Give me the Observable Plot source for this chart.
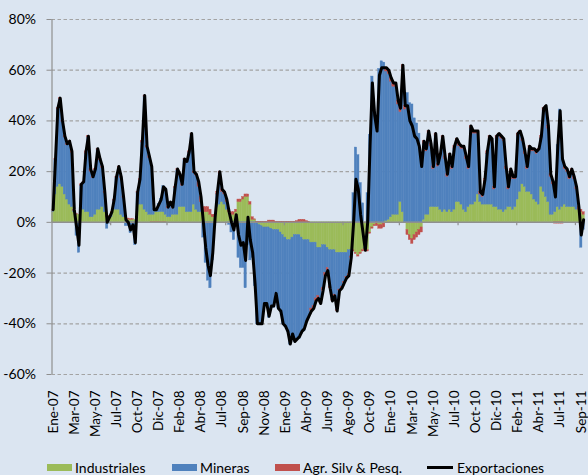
<!DOCTYPE html>
<html><head><meta charset="utf-8">
<script src="https://cdn.jsdelivr.net/npm/d3@7"></script>
<script src="https://cdn.jsdelivr.net/npm/@observablehq/plot@0.6"></script>
<style>
html,body{margin:0;padding:0;background:#DBE5F1;}
#wrap{position:relative;width:588px;height:475px;overflow:hidden;font-family:Lato,sans-serif;background:#DBE5F1;}
#chart{position:absolute;left:0;top:0;}
.it{position:absolute;top:459px;height:16px;display:flex;align-items:center;font-size:14px;color:#000;white-space:nowrap;}
.sw{width:25px;height:7px;margin-right:3px;}
.ln{width:26px;height:3px;background:#000;margin-right:4px;}
</style></head>
<body><div id="wrap"><div id="chart"></div>
<div id="legend"></div></div>
<script>
const xLabels = ["Ene-07","Mar-07","May-07","Jul-07","Oct-07","Dic-07","Feb-08","Abr-08","Jul-08","Sep-08","Nov-08","Ene-09","Abr-09","Jun-09","Ago-09","Oct-09","Ene-10","Mar-10","May-10","Jul-10","Oct-10","Dic-10","Feb-11","Abr-11","Jul-11","Sep-11"];
const series = ["Industriales","Mineras","Agr. Silv & Pesq."];
const colors = ["#9BBB59","#4F81BD","#C0504D"];
const yTicks = [-60,-40,-20,0,20,40,60,80];

const exportaciones = [
5,25,45,49,40,34,31,32,28,5,
-2,-9,15,16,28,34,21,18,21,29,
25,22,12,0,2,4,9,18,22,18,
10,1,0,-3,-1,-8,12,17,32,50,
30,26,22,5,5,7,9,14,13,6,
8,6,14,21,19,15,25,24,28,35,
20,19,16,10,0,-10,-17,-21,-12,2,
12,20,13,12,9,4,0,-3,3,-5,
-9,-8,-15,2,-7,-12,-24,-40,-40,-40,
-32,-32,-37,-33,-33,-28,-34,-35,-40,-41,
-43,-48,-44,-47,-46,-45,-43,-42,-39,-37,
-35,-34,-31,-30,-32,-27,-21,-19,-26,-31,
-29,-35,-27,-26,-24,-22,-21,-14,0,17,
13,3,-4,-11,0,30,55,42,36,58,
61,61,61,60,57,55,55,48,45,62,
46,46,40,38,34,33,30,22,32,29,
36,31,22,35,23,27,34,26,19,27,
22,30,33,31,30,30,26,22,38,36,
36,36,12,11,17,28,34,33,14,34,
35,34,33,22,14,21,18,18,35,36,
33,28,22,30,29,29,28,29,34,45,
46,38,19,16,10,30,44,25,22,21,
18,21,18,14,6,-5,1];

const industriales = [
4,11,14,15,14,11,9,7,6,4,
3,3,5,5,4,4,2,2,3,5,
5,6,4,2,2,2,5,5,5,3,
2,2,1,1,1,1,4,7,7,5,
4,3,3,3,4,4,4,4,3,2,
2,3,3,3,6,6,6,4,4,4,
7,5,4,4,4,4,4,3,2,2,
6,7,8,7,5,4,3,3,4,8,
8,9,10,10,7,1,1,0,-1,-1.5,
-2,-2,-2,-2.5,-3,-3,-3,-4,-5,-6,
-7,-7,-6,-5,-5,-5,-6,-7,-7,-7,
-8,-8,-8,-10,-10,-9,-9,-10,-11,-11,
-11,-12,-12,-12,-12,-12,-11,-11,-11,-12,
-13,-12,-11,-10,-11,-4,-2,-1,0,-1,
-1,-0.5,0.5,1,2,3,3,3,8,4,
0,-3,-5,-6.5,-5,-4,-3,-2,1,3,
3,6,6,6,6,5,4,5,4,5,
4,5,8,8,7,5,4,6,7,7,
8,11,8,7,7,7,7,7,6,6,
5,5,4,5,6,6,5,6,9,12,
15,14,12,12,11,9,8,7,14,12,
10,8,3,3,4,6,5,6,7,6,
6,6,6,5,5,4,3];

const mineras = [
0.5,13.5,30.5,33.5,25.5,22.5,21.5,24.5,21.5,0.5,
-5.3,-12,9.5,10.5,23,29.5,18,15.5,17.5,23.5,
19.5,15.5,7.5,-2.5,-0.5,1.5,3.5,12.5,16.5,14.5,
7.5,-1.5,-1.5,-4.3,-2.3,-9,7.5,9.5,24.5,44.5,
25.5,22.5,19.3,2.3,1.3,3.3,5.3,10.3,10.3,3.5,
5.5,2.5,10.5,17.5,12.5,8.5,18.5,19.5,23.5,30.5,
12.5,13.5,10,4,-6,-16,-23,-26,-15,-1,
5,12,4,4,3,-1,-4,-7,-2,-14,
-18,-18,-26,-9,-15,-14,-25.2,-40.2,-39.2,-38.7,
-30.2,-30.2,-35.7,-31.2,-30.7,-25.2,-31.2,-31.2,-35.2,-35.2,
-36.2,-41.2,-38.2,-42.2,-41.5,-41,-38,-36,-32.5,-30.2,
-26,-25,-22,-19,-21,-17,-11,-8,-14.5,-19.5,
-17.5,-22.5,-14.5,-13.5,-11.5,-9.5,-9.5,-2.5,11.5,29.5,
26.5,15.5,7.5,-0.5,11.5,34.5,57.5,43.5,37.5,60.5,
63.5,63,59,57.5,53.5,50.5,50.5,43.5,35.5,56.5,
44.5,51,47,46.5,41,39,35,26,30,25,
32,24,15,28,16,21,29,20,14,21,
17,24,24,22,22,24,21,15,30,28,
27,24,3,3,9,20,26,25,7,27,
29,28,28,16,7,14,12,11,25,23,
17,13,9,17,17,19,19,21,19,32,
35,29,15,12,6.5,24.5,39.5,19.5,14,14,
11,14,11,8,0,-10,-3];

const agr = [
0.5,0.5,0.5,0.5,0.5,0.5,0.5,0.5,0.5,0.5,
0.3,0,0.5,0.5,1,0.5,1,0.5,0.5,0.5,
0.5,0.5,0.5,0.5,0.5,0.5,0.5,0.5,0.5,0.5,
0.5,0.5,0.5,0.3,0.3,0,0.5,0.5,0.5,0.5,
0.5,0.5,-0.3,-0.3,-0.3,-0.3,-0.3,-0.3,-0.3,0.5,
0.5,0.5,0.5,0.5,0.5,0.5,0.5,0.5,0.5,0.5,
0.5,0.5,2,2,2,2,2,2,1,1,
1,1,1,1,1,1,1,1,1,1,
1,1,1,1,1,1,0.2,0.2,0.2,0.2,
0.2,0.2,0.7,0.7,0.7,0.2,0.2,0.2,0.2,0.2,
0.2,0.2,0.2,0.2,0.5,1,1,1,0.5,0.2,
-1,-1,-1,-1,-1,-1,-1,-1,-0.5,-0.5,
-0.5,-0.5,-0.5,-0.5,-0.5,-0.5,-0.5,-0.5,-0.5,-0.5,
-0.5,-0.5,-0.5,-0.5,-0.5,-0.5,-0.5,-0.5,-1.5,-1.5,
-1.5,-1.5,1.5,1.5,1.5,1.5,1.5,1.5,1.5,1.5,
1.5,-2,-2,-2,-2,-2,-2,-2,1,1,
1,1,1,1,1,1,1,1,1,1,
1,1,1,1,1,1,1,1,1,1,
1,1,1,1,1,1,1,1,1,1,
1,1,1,1,1,1,1,1,1,1,
1,1,1,1,1,1,1,1,1,1,
1,1,1,1,-0.5,-0.5,-0.5,-0.5,1,1,
1,1,1,1,1,1,1];

const N = exportaciones.length;
const W = 588, H = 450, ML = 51.5, MR = 3.7, MT = 19, MB = 76;
const bw = (W - ML - MR) / N;
const labelStep = 9;
const labelIdx = xLabels.map((_, k) => k * labelStep);
const axisTickIdx = [25, 49, 74, 99, 124, 148, 173, 198, 223];

const table = [];
const bySerie = [industriales, mineras, agr];
for (let i = 0; i < N; i++) {
  series.forEach((s, k) => table.push({i, serie: s, value: bySerie[k][i]}));
}
const lineData = exportaciones.map((v, i) => ({i, v}));
const grey = "#8f8f8f";

const chart = Plot.plot({
  width: W, height: H,
  marginLeft: ML, marginRight: MR, marginTop: MT, marginBottom: MB,
  style: {background: "transparent", fontFamily: "Lato, sans-serif", fontSize: "14px", color: "#000", overflow: "visible"},
  x: {type: "band", domain: d3.range(N), padding: 0, label: null},
  y: {domain: [-60, 80], label: null},
  color: {domain: series, range: colors},
  marks: [
    Plot.ruleY(yTicks.filter(d => d !== 0), {stroke: "#a3a3a3", strokeWidth: 1.2, strokeDasharray: "3.5,2.5"}),
    Plot.barY(table, {x: "i", y: "value", fill: "serie", stroke: "serie", strokeWidth: 0.4}),
    Plot.ruleY([0], {stroke: grey, strokeWidth: 1.5}),
    Plot.ruleX(axisTickIdx, {x: d => d, y1: 0, y2: -1.3, dx: -bw / 2, stroke: grey, strokeWidth: 1.2}),
    Plot.ruleX([0], {x: d => d, y1: -60, y2: 80, dx: -bw / 2, stroke: grey, strokeWidth: 1.2}),
    Plot.line(lineData, {x: "i", y: "v", stroke: "#000", strokeWidth: 3, strokeLinejoin: "round", strokeLinecap: "round"}),
    Plot.axisY({ticks: yTicks, tickFormat: d => d + "%", tickSize: 5, tickPadding: 11, stroke: grey, label: null}),
    Plot.axisX({ticks: labelIdx, tickFormat: d => xLabels[d / labelStep], tickRotate: -90, tickSize: 0, tickPadding: 16, fontSize: 13.5, label: null})
  ]
});
document.getElementById("chart").appendChild(chart);

const legendItems = [
  {label: series[0], color: colors[0], left: 47, type: "sw"},
  {label: series[1], color: colors[1], left: 172, type: "sw"},
  {label: series[2], color: colors[2], left: 275, type: "sw"},
  {label: "Exportaciones", color: "#000", left: 427, type: "ln"}
];
const lg = document.getElementById("legend");
legendItems.forEach(d => {
  const it = document.createElement("div");
  it.className = "it";
  it.style.left = d.left + "px";
  const m = document.createElement("div");
  m.className = d.type;
  m.style.background = d.color;
  it.appendChild(m);
  const t = document.createElement("span");
  t.textContent = d.label;
  it.appendChild(t);
  lg.appendChild(it);
});
</script>
</body></html>
